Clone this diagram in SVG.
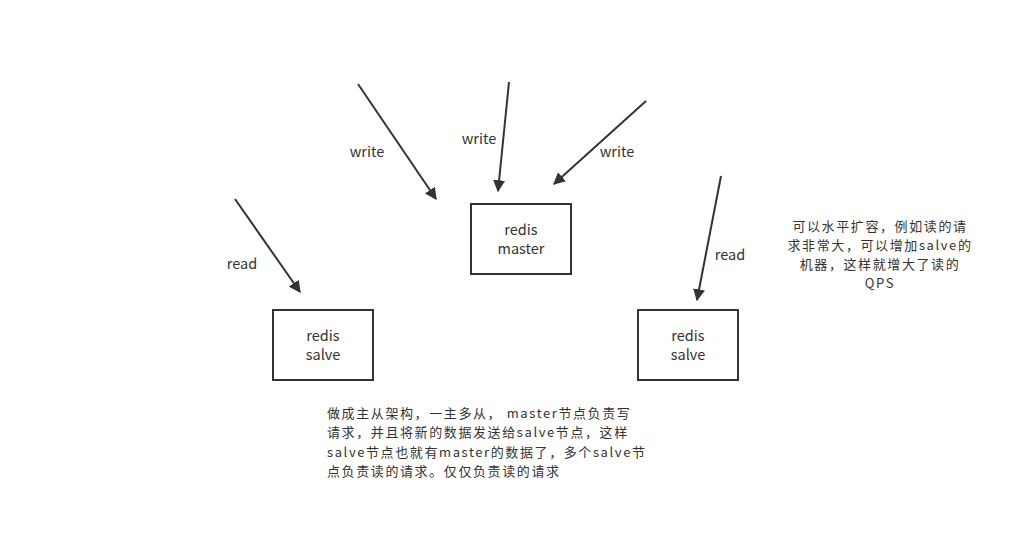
<svg xmlns="http://www.w3.org/2000/svg" width="1035" height="540" viewBox="0 0 1035 540">
<style>
.box{fill:#fff;stroke:#333;stroke-width:2}
.t{font-family:"Noto Sans CJK SC","Noto Sans",sans-serif;font-size:14.5px;fill:#333}
.n{font-family:"Noto Sans CJK SC","Noto Sans",sans-serif;font-size:13px;letter-spacing:1.6px;fill:#333}
.c{text-anchor:middle}
.ln{stroke:#333;stroke-width:2;fill:none;marker-end:url(#ah)}
</style>
<defs>
<marker id="ah" viewBox="0 0 10 10" refX="9" refY="5" markerWidth="6" markerHeight="6" markerUnits="strokeWidth" orient="auto">
<path d="M0,0 L10,5 L0,10 z" fill="#333"/>
</marker>
</defs>
<rect width="1035" height="540" fill="#fff"/>
<g id="connectors">
<line class="ln" x1="358" y1="84" x2="436" y2="199"/>
<line class="ln" x1="509" y1="82" x2="498" y2="191"/>
<line class="ln" x1="646" y1="101" x2="554" y2="184"/>
<line class="ln" x1="235" y1="199" x2="300" y2="292"/>
<line class="ln" x1="721" y1="176" x2="697" y2="300"/>
<text class="t c" x="367" y="157">write</text>
<text class="t c" x="479" y="144">write</text>
<text class="t c" x="617" y="157">write</text>
<text class="t c" x="242" y="269">read</text>
<text class="t c" x="730" y="260">read</text>
</g>
<g id="master">
<rect class="box" x="471" y="204" width="100" height="70"/>
<text class="t c" x="521" y="235">redis</text>
<text class="t c" x="521" y="254">master</text>
</g>
<g id="salve1">
<rect class="box" x="273" y="310" width="100" height="70"/>
<text class="t c" x="323" y="341">redis</text>
<text class="t c" x="323" y="360">salve</text>
</g>
<g id="salve2">
<rect class="box" x="638" y="310" width="100" height="70"/>
<text class="t c" x="688" y="341">redis</text>
<text class="t c" x="688" y="360">salve</text>
</g>
<g id="note1">
<text class="n" x="327" y="418">做成主从架构，一主多从， master节点负责写</text>
<text class="n" x="327" y="437">请求，并且将新的数据发送给salve节点，这样</text>
<text class="n" x="327" y="457">salve节点也就有master的数据了，多个salve节</text>
<text class="n" x="327" y="476">点负责读的请求。仅仅负责读的请求</text>
</g>
<g id="note2">
<text class="n c" x="880" y="231">可以水平扩容，例如读的请</text>
<text class="n c" x="880" y="250">求非常大，可以增加salve的</text>
<text class="n c" x="880" y="269">机器，这样就增大了读的</text>
<text class="n c" x="880" y="288">QPS</text>
</g>
</svg>
